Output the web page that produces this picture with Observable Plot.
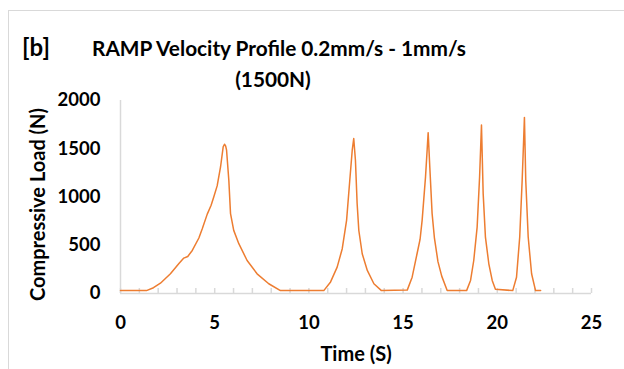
<!DOCTYPE html>
<html>
<head>
<meta charset="utf-8">
<script src="https://cdn.jsdelivr.net/npm/d3@7"></script>
<script src="https://cdn.jsdelivr.net/npm/@observablehq/plot@0.6"></script>
<style>
  html, body { margin: 0; padding: 0; background: #fff; }
</style>
</head>
<body>
<div id="chart"></div>
<script>
// Time (s) and compressive load (N)
const time = [
  0, 1.38, 1.75, 2.12, 2.65, 3.09, 3.36, 3.57, 3.81, 4.16, 4.34, 4.60, 4.81, 4.95, 5.13, 5.31, 5.45, 5.52, 5.58, 5.63, 5.75, 5.84, 6.01, 6.28, 6.72, 7.25, 7.87, 8.49,
  10.79, 11.15, 11.50, 11.77, 12.00, 12.17, 12.30, 12.38, 12.47, 12.56, 12.65, 12.83, 13.10, 13.45, 13.85,
  15.22, 15.48, 15.74, 15.90, 16.01, 16.19, 16.28, 16.33, 16.42, 16.54, 16.66, 16.85, 17.05, 17.34,
  18.37, 18.58, 18.75, 18.93, 19.06, 19.16, 19.25, 19.37, 19.55, 19.73, 19.90,
  20.82, 21.02, 21.19, 21.32, 21.40, 21.44, 21.51, 21.64, 21.82, 22.03, 22.30
];
const load = [
  30, 30, 60, 107, 205, 308, 367, 384, 446, 575, 670, 820, 915, 1000, 1115, 1311, 1519, 1547, 1530, 1485, 1173, 828, 654, 516, 342, 204, 101, 30,
  30, 120, 273, 464, 758, 1173, 1485, 1606, 1381, 932, 653, 412, 239, 101, 30,
  35, 169, 412, 560, 758, 1208, 1500, 1667, 1300, 828, 580, 330, 180, 30,
  30, 135, 342, 688, 1208, 1745, 1035, 585, 308, 135, 45,
  30, 169, 585, 1173, 1600, 1825, 1173, 585, 205, 30, 30
];
const xTickLabels = [0, 5, 10, 15, 20, 25];
const yTickLabels = [0, 500, 1000, 1500, 2000];
const xMinorTicks = [0,1,2,3,4,5,6,7,8,9,10,11,12,13,14,15,16,17,18,19,20,21,22,23,24,25];

const titleLine1 = "RAMP Velocity Profile 0.2mm/s - 1mm/s";
const titleLine2 = "(1500N)";
const panelTag = "[b]";
const xTitle = "Time (S)";
const yTitle = "Compressive Load (N)";

const data = time.map((t, i) => ({t, v: load[i]}));

const grey = "#d9d9d9";
const plot = Plot.plot({
  width: 624,
  height: 369,
  marginLeft: 120,
  marginRight: 33,
  marginTop: 100,
  marginBottom: 76,
  x: {domain: [0, 25]},
  y: {domain: [0, 2000]},
  style: {fontFamily: "Lato", fontWeight: "bold", fontSize: "18.5px", color: "#000", background: "#fff"},
  marks: [
    Plot.ruleX([0], {stroke: grey, strokeWidth: 1.5}),
    Plot.ruleY([0], {stroke: grey, strokeWidth: 1.5}),
    Plot.tickX(xMinorTicks, {x: d => d, insetTop: 188, stroke: grey, strokeWidth: 1.5}),
    Plot.axisX({ticks: xTickLabels, tickSize: 0, tickPadding: 22, label: null, fill: "#000", tickFormat: d => String(d)}),
    Plot.axisY({ticks: yTickLabels, tickSize: 0, tickPadding: 20, label: null, fill: "#000", tickFormat: d => String(d)}),
    Plot.line(data, {x: "t", y: "v", stroke: "#ED7D31", strokeWidth: 1.5}),
    Plot.text([yTitle], {frameAnchor: "left", textAnchor: "middle", dx: -81.5, dy: 7.5, rotate: -90, fontSize: 20, text: d => d, fill: "#000"}),
    Plot.text([xTitle], {frameAnchor: "bottom", dy: 67, fontSize: 20, text: d => d, fill: "#000"})
  ]
});

const svg = d3.select(plot);
svg.insert("rect", ":first-child")
  .attr("x", 8.5).attr("y", 10.5).attr("width", 700).attr("height", 400)
  .attr("fill", "none").attr("stroke", grey).attr("stroke-width", 1);
svg.append("text").attr("x", 36).attr("y", 56)
  .attr("font-size", 24).attr("font-weight", "bold").attr("fill", "#000").text(panelTag);
svg.append("text").attr("x", 279).attr("y", 56).attr("text-anchor", "middle")
  .attr("font-size", 20.8).attr("font-weight", "bold").attr("fill", "#000").text(titleLine1);
svg.append("text").attr("x", 273).attr("y", 87).attr("text-anchor", "middle")
  .attr("font-size", 20.8).attr("font-weight", "bold").attr("fill", "#000").text(titleLine2);

document.getElementById("chart").appendChild(plot);
</script>
</body>
</html>
